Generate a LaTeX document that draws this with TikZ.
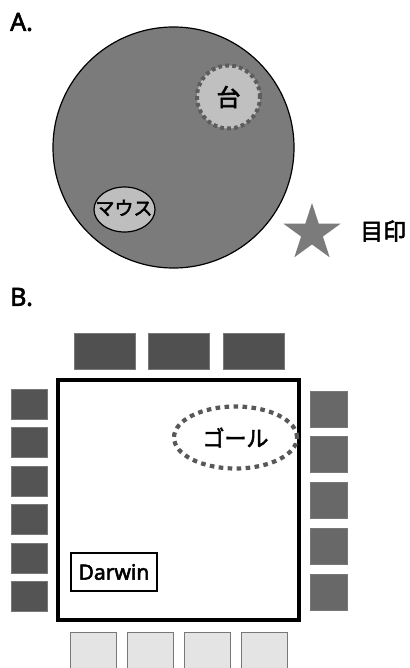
\documentclass[tikz,border=0pt]{standalone}
\usepackage{fontspec}
\setmainfont[FakeBold=2.5]{Noto Sans}
\newfontfamily\jp[FakeBold=2.5]{Noto Sans CJK JP}
\usetikzlibrary{shapes.geometric}
\definecolor{arena}{RGB}{123,123,123}
\definecolor{platform}{RGB}{192,192,192}
\definecolor{platedge}{RGB}{92,92,92}
\definecolor{mousefill}{RGB}{190,190,190}
\definecolor{topbox}{RGB}{80,80,80}
\definecolor{leftbox}{RGB}{84,84,84}
\definecolor{rightbox}{RGB}{104,104,104}
\definecolor{botbox}{RGB}{228,228,228}
\definecolor{boxedge}{RGB}{120,120,120}
\definecolor{goaledge}{RGB}{88,88,88}
\tikzset{
  panel/.style={font=\fontsize{25}{25}\selectfont, anchor=west, inner sep=0},
  cue/.style={draw=boxedge, line width=0.8pt, inner sep=0},
  topcue/.style={cue, fill=topbox, minimum width=61pt, minimum height=36pt},
  leftcue/.style={cue, fill=leftbox, minimum width=36pt, minimum height=30pt},
  rightcue/.style={cue, fill=rightbox, minimum width=37pt, minimum height=36pt},
  botcue/.style={cue, fill=botbox, minimum width=46pt, minimum height=40pt},
}
\begin{document}
\begin{tikzpicture}[x=1pt,y=-1pt]
\clip (0,0) rectangle (409,668);
\fill[white] (0,0) rectangle (409,668);
% Panel A
\node[panel] (labA) at (10,22) {A.};
\node[circle, draw=black, line width=1.2pt, fill=arena, minimum size=241pt, inner sep=0] (arena) at (173.5,147.5) {};
\node[circle, draw=platedge, line width=4pt, dash pattern=on 3.8pt off 3.2pt, fill=platform, minimum size=63pt, inner sep=0, font=\jp\fontsize{24}{24}\selectfont] (plat) at (228.5,97) {台};
\node[ellipse, draw=black, line width=1.2pt, fill=mousefill, minimum width=61pt, minimum height=45pt, inner sep=0] (mouse) at (124.5,209.5) {};
\node[font=\jp\fontsize{19}{19}\selectfont, inner sep=0] (mousetxt) at (124,208) {マウス};
\node[star, star points=5, star point ratio=2.618, fill=arena, minimum size=60pt, inner sep=0] (mark) at (312,233) {};
\node[font=\jp\fontsize{23}{23}\selectfont, anchor=west, inner sep=0] (marktxt) at (360,231) {目印};
% Panel B
\node[panel] (labB) at (10,297) {B.};
\node[topcue] (t1) at (104.5,351) {};
\node[topcue] (t2) at (179,351) {};
\node[topcue] (t3) at (253.5,351) {};
\foreach \i/\y in {1/404,2/442.5,3/481,4/519.5,5/558,6/596}
  \node[leftcue] (l\i) at (29,\y) {};
\foreach \i/\x in {1/93.5,2/150,3/207,4/264}
  \node[botcue] (b\i) at (\x,652) {};
\foreach \i/\y in {1/409,2/454.5,3/500,4/546,5/592}
  \node[rightcue] (r\i) at (328.5,\y) {};
\node[draw=black, line width=3.2pt, minimum width=241pt, minimum height=240pt, inner sep=0] (pool) at (178.5,500) {};
\node[draw=black, line width=2.8pt, minimum width=86pt, minimum height=38pt, inner sep=0, font=\fontsize{21}{21}\selectfont] (darwin) at (114,572) {Darwin};
\node[ellipse, draw=goaledge, line width=4.2pt, dash pattern=on 4.6pt off 4.4pt, minimum width=123pt, minimum height=62pt, inner sep=0, font=\jp\fontsize{22}{22}\selectfont] (goal) at (235.5,437.5) {ゴール};
\end{tikzpicture}
\end{document}
